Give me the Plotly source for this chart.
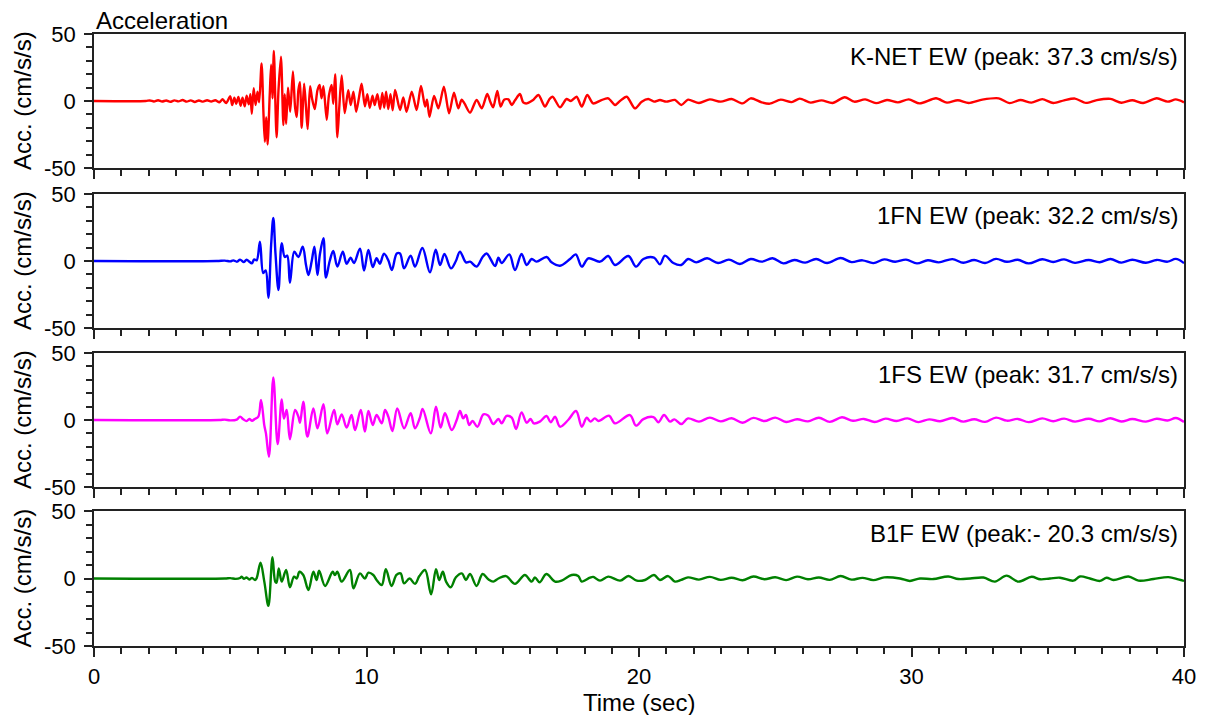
import plotly.graph_objects as go

# ---------------- data (time [s], acceleration [cm/s/s]) ----------------
knet_ew = [
    (0, 0), (1.9, 0), (2.05, 0.4), (2.2, -0.4), (2.35, 0.6), (2.5, -0.4), (2.65, 0.4), (2.8, -0.6),
    (2.95, 0.5), (3.1, -0.3), (3.25, 0.7), (3.4, -0.5), (3.55, 0.5), (3.7, -0.7), (3.85, 0.4),
    (4.0, -0.5), (4.15, 0.6), (4.3, -0.4), (4.45, 0.6), (4.6, -0.9), (4.72, 1.3), (4.85, -1.6),
    (5.0, 3.5), (5.07, -3.0), (5.15, 2.5), (5.22, -2.0), (5.3, 3.0), (5.38, -3.5), (5.45, 2.5),
    (5.53, -4.0), (5.6, 4.0), (5.68, -2.5), (5.74, 5.0), (5.79, -9.5), (5.86, 9.5), (5.93, -3.0),
    (6.0, 7.0), (6.06, -1.0), (6.15, 28.0), (6.22, -10.0), (6.27, -30.5), (6.32, -12.0),
    (6.37, -32.5), (6.45, 5.0), (6.5, 27.0), (6.55, 2.0), (6.6, 37.3), (6.7, -27.0), (6.77, 8.0),
    (6.86, 33.0), (6.95, -18.0), (7.0, 5.0), (7.05, -17.0), (7.12, 10.0), (7.2, -8.0), (7.3, 22.0),
    (7.38, -5.0), (7.44, -12.0), (7.5, 8.0), (7.56, 14.0), (7.62, -20.0), (7.71, 13.0), (7.78, -5.0),
    (7.84, -21.0), (7.93, 11.0), (8.0, 2.0), (8.1, -6.0), (8.2, 8.0), (8.28, 12.0), (8.35, 2.0),
    (8.42, 11.0), (8.54, -14.0), (8.62, 4.0), (8.72, 12.0), (8.78, -2.0), (8.85, 20.0), (8.93, -27.0),
    (9.0, -5.0), (9.09, 19.0), (9.2, -9.0), (9.33, 8.0), (9.42, -3.0), (9.52, 7.0), (9.62, -8.0),
    (9.72, 2.0), (9.82, 13.0), (9.94, -4.0), (10.03, 5.0), (10.12, -5.0), (10.22, 4.0), (10.3, -3.0),
    (10.4, 5.0), (10.5, -6.0), (10.58, 6.0), (10.65, -5.0), (10.72, 7.0), (10.8, -6.0), (10.88, 5.0),
    (10.96, -7.0), (11.05, 8.2), (11.23, -6.7), (11.35, 2.7), (11.47, -8.0), (11.66, 7.0),
    (11.84, -6.7), (12.0, 11.2), (12.15, -4.2), (12.22, 1.0), (12.31, -11.7), (12.48, 3.7),
    (12.64, -5.5), (12.84, 10.7), (13.03, -9.2), (13.21, 6.2), (13.37, -5.5), (13.49, 1.0),
    (13.6, -2.0), (13.8, -8.7), (14.04, 0.8), (14.23, -5.5), (14.43, 5.2), (14.55, -1.0),
    (14.65, -4.7), (14.8, 7.5), (14.92, -4.2), (15.05, 1.0), (15.21, 1.2), (15.33, -3.0),
    (15.45, 0.5), (15.63, 5.2), (15.75, -1.0), (15.88, -1.8), (16.1, 0.5), (16.31, 4.5),
    (16.55, -4.2), (16.7, 1.0), (16.83, 3.2), (17.1, -4.7), (17.34, 1.5), (17.5, 0.0), (17.71, 3.2),
    (17.9, -4.2), (18.1, 4.5), (18.32, -1.8), (18.6, 0.5), (18.87, 2.0), (19.12, -3.0), (19.3, 0.0),
    (19.55, 3.2), (19.85, -5.5), (20.1, -0.5), (20.34, 1.5), (20.55, -0.5), (20.77, 0.8),
    (21.0, -0.5), (21.32, 0.8), (21.55, -3.0), (21.8, 1.0), (22.2, -1.5), (22.6, 1.2), (23.0, -0.5),
    (23.4, 1.5), (23.8, -1.8), (24.1, 2.0), (24.5, -1.0), (24.8, -2.0), (25.2, 1.0), (25.6, -0.8),
    (25.9, 1.8), (26.3, -1.2), (26.7, 0.5), (27.1, -1.5), (27.55, 2.8), (27.9, -0.5), (28.3, 1.2),
    (28.7, -1.6), (29.1, 0.8), (29.5, -1.0), (29.9, 1.2), (30.3, -1.8), (30.9, 2.0), (31.3, -1.2),
    (31.7, 0.6), (32.1, -1.5), (32.6, 1.0), (33.2, 2.0), (33.6, -1.6), (34.0, 0.8), (34.4, -1.2),
    (34.8, 1.4), (35.2, -1.5), (35.6, 0.5), (36.0, 1.8), (36.4, -1.4), (36.8, 0.7), (37.3, 1.6),
    (37.7, -1.3), (38.1, 0.6), (38.5, -1.5), (39.0, 2.0), (39.4, -0.5), (39.7, 1.2), (40.0, -1.0),
]

fn1_ew = [
    (0, 0), (4.5, 0), (4.8, 0.3), (5.0, -0.3), (5.11, 0.5), (5.25, -0.5), (5.36, 1.0), (5.5, -0.8),
    (5.6, 1.0), (5.7, -0.5), (5.79, -1.8), (5.88, 1.2), (5.97, 0.5), (6.09, 14.4), (6.21, -9.0),
    (6.3, -7.0), (6.4, -27.4), (6.5, 12.0), (6.58, 32.2), (6.66, 5.5), (6.77, -21.6), (6.89, 13.2),
    (7.0, 3.0), (7.09, 4.0), (7.19, -16.2), (7.35, 7.0), (7.5, 3.0), (7.66, 10.7), (7.78, -3.0),
    (7.87, -10.4), (7.99, 0.0), (8.09, 10.7), (8.2, -10.4), (8.29, 5.0), (8.42, 17.0), (8.51, -12.4),
    (8.65, 0.0), (8.78, 7.5), (8.93, -4.2), (9.13, 7.0), (9.27, -2.0), (9.42, 2.5), (9.54, -1.5),
    (9.76, 9.2), (9.91, -7.2), (10.07, 8.2), (10.23, -4.5), (10.37, 2.0), (10.49, -2.0),
    (10.64, 5.5), (10.8, 0.5), (10.93, -6.7), (11.11, 5.6), (11.23, 5.6), (11.38, -5.5),
    (11.62, 4.0), (11.78, -4.2), (12.05, 9.7), (12.33, -8.5), (12.54, 8.5), (12.7, -3.0),
    (12.86, 5.2), (13.1, -5.5), (13.28, 0.0), (13.43, 7.0), (13.65, -1.0), (13.8, -0.5),
    (14.04, -4.2), (14.26, 3.0), (14.41, 5.6), (14.72, -3.7), (14.84, 2.5), (14.96, -1.5),
    (15.24, 4.9), (15.45, -6.7), (15.69, 5.2), (15.88, -3.0), (16.06, 1.5), (16.24, -0.5),
    (16.61, 3.0), (16.79, -1.0), (17.1, -3.5), (17.47, 1.5), (17.68, 4.9), (17.9, -4.2),
    (18.14, 2.0), (18.57, -0.5), (18.87, 3.7), (19.12, -3.0), (19.61, 3.7), (19.89, -4.2),
    (20.16, 1.5), (20.55, 2.5), (20.77, -2.5), (20.95, 4.0), (21.26, -1.5), (21.55, -3.0),
    (21.8, 1.5), (22.1, -1.0), (22.5, 2.0), (22.9, -1.5), (23.3, 1.0), (23.7, -2.2),
    (24.1, 1.5), (24.5, -0.5), (24.9, 2.0), (25.3, -1.8), (25.7, 0.8), (26.1, -1.2), (26.5, 1.5),
    (26.9, -1.5), (27.4, 2.2), (27.8, -0.8), (28.2, 0.5), (28.6, -1.6), (29.0, 1.2), (29.4, -0.6),
    (29.8, 1.0), (30.2, -1.8), (30.6, 0.6), (31.0, -1.0), (31.5, 1.4), (31.9, -1.3), (32.3, 0.8),
    (32.7, -1.5), (33.1, 1.6), (33.5, -0.6), (33.9, 0.9), (34.3, -1.8), (34.8, 1.3), (35.2, -0.8),
    (35.6, 1.2), (36.0, -1.4), (36.5, 0.7), (36.9, -0.9), (37.3, 1.5), (37.7, -1.2), (38.1, 0.9),
    (38.6, -1.3), (39.0, 0.8), (39.4, -0.5), (39.7, 1.6), (40.0, -1.6),
]

fs1_ew = [
    (0, 0), (4.6, 0), (4.8, 0.3), (5.0, -0.3), (5.24, 0.3), (5.36, 2.5), (5.48, 0.5), (5.6, -0.8),
    (5.7, 0.8), (5.8, -0.6), (5.9, 0.8), (6.03, 2.5), (6.13, 15.0), (6.25, -4.0), (6.31, -10.0),
    (6.42, -27.4), (6.58, 31.7), (6.74, -18.0), (6.89, 15.4), (6.97, 1.0), (7.07, 7.5),
    (7.19, -14.4), (7.38, 7.5), (7.5, 2.5), (7.56, -2.0), (7.68, 13.7), (7.83, -12.4), (8.05, 8.7),
    (8.2, -6.2), (8.42, 11.7), (8.56, -10.0), (8.81, 7.5), (8.93, -3.2), (9.09, 4.2), (9.27, -5.7),
    (9.45, 3.7), (9.58, -7.5), (9.79, 7.5), (9.94, -8.7), (10.07, 6.7), (10.23, -3.7), (10.37, 3.7),
    (10.56, -2.5), (10.68, 7.5), (10.8, 2.5), (10.95, -8.2), (11.13, 8.7), (11.38, -6.2),
    (11.62, 5.0), (11.78, -6.2), (11.96, 1.7), (12.06, 8.2), (12.36, -10.0),
    (12.55, 10.0), (12.72, -5.7), (12.88, 5.0), (13.13, -7.5), (13.31, 0.0), (13.43, 6.7),
    (13.55, 1.2), (13.65, 3.7), (13.77, -3.7), (13.89, -0.7), (14.07, -5.0), (14.29, 4.2),
    (14.47, 3.2), (14.65, -3.0), (14.84, 0.7), (14.96, -2.5), (15.14, 3.0), (15.33, 1.7),
    (15.49, -6.7), (15.69, 5.7), (15.88, -2.0), (16.02, 0.7), (16.14, -2.5), (16.36, -1.2),
    (16.61, 3.0), (16.76, -1.7), (16.92, 2.5), (17.1, -5.0), (17.4, 0.0), (17.69, 6.7), (17.9, -5.0),
    (18.08, 1.7), (18.22, -1.2), (18.38, 1.2), (18.51, -0.7), (18.9, 3.2), (19.12, -2.5),
    (19.67, 3.7), (19.89, -4.2), (20.16, 0.7), (20.53, 2.2), (20.71, -1.7), (20.92, 3.7),
    (21.14, -1.2), (21.3, 0.5), (21.55, -3.0), (21.8, 1.2), (22.2, -1.2), (22.6, 1.8), (23.0, -1.0),
    (23.4, 1.3), (23.8, -2.0), (24.2, 1.6), (24.6, -0.8), (25.0, 1.8), (25.4, -1.5), (25.8, 0.6),
    (26.2, -1.0), (26.6, 1.7), (27.0, -1.4), (27.45, 2.0), (27.85, -0.6), (28.25, 0.8),
    (28.65, -1.5), (29.05, 1.0), (29.45, -0.8), (29.85, 1.2), (30.25, -1.6), (30.65, 0.5),
    (31.05, -0.9), (31.5, 1.5), (31.9, -1.2), (32.3, 0.6), (32.7, -1.4), (33.1, 1.8), (33.5, -0.5),
    (33.9, 0.8), (34.3, -1.6), (34.8, 1.2), (35.2, -0.9), (35.6, 1.0), (36.0, -1.2), (36.5, 0.9),
    (36.9, -1.0), (37.3, 1.3), (37.7, -1.1), (38.1, 0.7), (38.6, -1.2), (39.0, 0.9), (39.4, -0.4),
    (39.7, 1.5), (40.0, -1.5),
]

b1f_ew = [
    (0, 0), (4.8, 0), (5.0, 0.3), (5.2, -0.3), (5.36, 0.4), (5.42, 1.4), (5.5, -0.3), (5.6, 0.8),
    (5.7, -0.8), (5.8, 0.5), (5.91, -1.1), (5.97, 0.3), (6.11, 11.7), (6.25, -2.3), (6.4, -20.3),
    (6.55, 15.7), (6.65, -2.3), (6.7, -3.1), (6.78, 7.5), (6.89, -2.3), (7.05, 6.3), (7.19, -6.5),
    (7.34, 1.4), (7.44, 0.0), (7.54, 5.0), (7.68, 2.6), (7.87, -8.5), (8.05, 5.0), (8.17, -1.1),
    (8.26, 5.8), (8.48, -5.5), (8.76, 5.0), (8.84, 2.6), (8.93, 5.0), (9.09, -2.3), (9.39, 6.3),
    (9.52, -7.3), (9.76, 3.8), (9.94, 0.0), (10.07, 4.3), (10.25, 2.6), (10.37, -1.1),
    (10.56, -4.8), (10.71, 6.8), (10.92, -5.5), (11.1, 2.6), (11.25, 3.8), (11.38, -3.6),
    (11.58, 0.0), (11.78, -4.0), (11.94, 1.8), (12.15, 6.3), (12.37, -11.7), (12.55, 6.8),
    (12.67, -1.1), (12.8, 5.0), (12.92, -2.3), (13.09, -6.5), (13.28, 0.9), (13.5, 3.8),
    (13.65, -1.1), (13.8, 3.3), (14.04, -5.5), (14.26, 3.3), (14.47, -0.6), (14.65, -2.3),
    (14.84, 0.0), (15.12, 1.8), (15.45, -4.0), (15.81, 2.6), (16.06, -2.3), (16.18, 0.8),
    (16.35, -2.8), (16.6, 3.3), (16.92, -2.3), (17.16, -1.5), (17.53, 2.6), (17.77, 1.8),
    (17.9, -2.3), (18.2, 0.6), (18.32, 1.2), (18.57, -1.6), (18.87, 1.4), (19.31, -1.6),
    (19.61, 1.8), (19.92, -1.6), (20.22, -1.1), (20.55, 2.6), (20.77, -1.1), (21.07, 1.8),
    (21.32, -2.3), (21.55, -1.0), (21.8, 0.8), (22.2, -0.8), (22.6, 1.2), (23.0, -1.0), (23.4, 0.6),
    (23.8, -1.3), (24.2, 1.5), (24.6, -0.5), (25.0, 0.9), (25.4, -1.2), (25.8, 1.4), (26.2, -0.6),
    (26.6, 0.7), (27.0, -1.0), (27.4, 1.8), (27.8, -0.8), (28.2, 0.5), (28.6, -1.2), (29.0, 0.8),
    (29.58, 0.0), (29.94, -1.8), (30.31, 0.0), (30.8, -0.4), (31.35, 1.5), (31.72, -0.4),
    (32.15, 0.0), (32.64, 0.7), (33.06, -2.3), (33.49, 2.1), (33.92, -2.3), (34.41, 1.3),
    (34.72, -0.6), (35.08, 0.0), (35.45, 0.6), (35.94, -1.6), (36.18, 1.5), (36.55, 0.0),
    (36.92, -1.8), (37.16, 0.6), (37.41, -1.1), (37.96, 1.5), (38.33, -1.6), (38.88, -0.4),
    (39.43, 1.0), (39.79, -0.7), (40.0, -1.8),
]

series_names = ["K-NET EW (peak: 37.3 cm/s/s)", "1FN EW (peak: 32.2 cm/s/s)",
                "1FS EW (peak: 31.7 cm/s/s)", "B1F EW (peak:- 20.3 cm/s/s)"]
series_data = [knet_ew, fn1_ew, fs1_ew, b1f_ew]
series_colors = ["#ff0000", "#0000ff", "#ff00ff", "#008000"]
series_smoothing = [0.75, 1.0, 1.0, 1.0]

x_ticks = [0, 10, 20, 30, 40]
y_ticks = [-50, 0, 50]
y_tick_text = ["-50", "0", "50"]

# ---------------- figure ----------------
FONT = "Liberation Sans, Arial, Helvetica, sans-serif"
FS = 24          # titles / labels
FS_TICK = 22     # tick labels
W, H = 1207, 715
ML, MR, MT, MB = 94, 23, 34, 69
plot_h = H - MT - MB

# panel pixel positions (top, bottom) in page coordinates
panel_px = [(34, 168), (194, 328), (353, 487), (511, 646)]
domains = [[(H - MB - b) / plot_h, (H - MB - t) / plot_h] for t, b in panel_px]

fig = go.Figure()
axis_line = dict(showline=True, linecolor="#222222", linewidth=1.6, mirror=True,
                 showgrid=False, zeroline=False)

for i, (name, data, col, sm) in enumerate(zip(series_names, series_data, series_colors,
                                               series_smoothing)):
    k = i + 1
    sfx = "" if k == 1 else str(k)
    xs = [p[0] for p in data]
    ys = [p[1] for p in data]
    fig.add_trace(go.Scatter(x=xs, y=ys, mode="lines", name=name,
                             line=dict(color=col, width=2.4, shape="spline", smoothing=sm),
                             xaxis=f"x{sfx}", yaxis=f"y{sfx}", showlegend=False,
                             hoverinfo="skip"))
    xa = dict(axis_line, domain=[0, 1], range=[0, 40], anchor=f"y{sfx}",
              tickmode="array", tickvals=x_ticks, ticks="outside", ticklen=9,
              tickwidth=1.5, tickcolor="#222222",
              minor=dict(dtick=1, ticklen=6, ticks="outside", tickwidth=1.5, tickcolor="#222222"),
              showticklabels=(k == 4), ticklabelstandoff=1,
              tickfont=dict(family=FONT, size=FS_TICK, color="black"))
    ya = dict(axis_line, domain=domains[i], range=[-50, 50], anchor=f"x{sfx}",
              tickmode="array", tickvals=y_ticks, ticktext=y_tick_text,
              ticks="outside", ticklen=8, tickwidth=1.5, tickcolor="#222222",
              minor=dict(dtick=10, ticklen=6, ticks="outside", tickwidth=1.5, tickcolor="#222222"),
              ticklabelstandoff=4,
              tickfont=dict(family=FONT, size=FS_TICK, color="black"))
    fig.layout[f"xaxis{sfx}"] = xa
    fig.layout[f"yaxis{sfx}"] = ya

    # series label in the upper right of each panel
    fig.add_annotation(text=name, xref=f"x{sfx} domain", yref=f"y{sfx} domain",
                       x=1, y=1 - 22 / 134, xanchor="right", yanchor="middle",
                       xshift=-4, showarrow=False,
                       font=dict(family=FONT, size=FS, color="black"))
    # y axis title
    fig.add_annotation(text="Acc. (cm/s/s)", xref="paper", yref="paper",
                       x=(22 - ML) / (W - ML - MR), y=sum(domains[i]) / 2,
                       xanchor="center", yanchor="middle", textangle=-90,
                       showarrow=False, font=dict(family=FONT, size=FS, color="black"))

fig.add_annotation(text="Acceleration", xref="paper", yref="paper", x=0, y=1,
                   xanchor="left", yanchor="bottom", yshift=-2, showarrow=False,
                   font=dict(family=FONT, size=FS, color="black"))
fig.add_annotation(text="Time (sec)", xref="paper", yref="paper", x=0.5, y=0,
                   xanchor="center", yanchor="top", yshift=-41, showarrow=False,
                   font=dict(family=FONT, size=FS, color="black"))

fig.update_layout(width=W, height=H, margin=dict(l=ML, r=MR, t=MT, b=MB, autoexpand=False),
                  paper_bgcolor="white", plot_bgcolor="white",
                  font=dict(family=FONT, size=FS, color="black"))

fig.write_html("out.html", config={"displayModeBar": False},
               post_script="document.body.style.margin='0px';document.body.style.padding='0px';")
